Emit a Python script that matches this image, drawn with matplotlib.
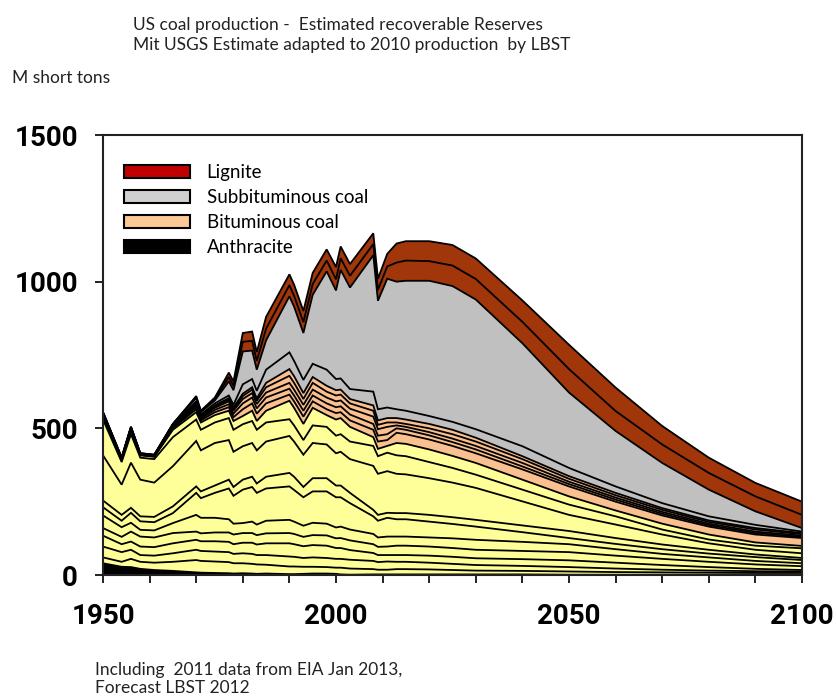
"""US coal production by coal type / state, history + LBST forecast."""

import numpy as np
import matplotlib
matplotlib.use("Agg")
import matplotlib.pyplot as plt
from matplotlib.patches import Patch
from matplotlib.ticker import MultipleLocator

years = [1950, 1954, 1956, 1958, 1961, 1965, 1970, 1971, 1974, 1977,
         1978, 1980, 1982, 1983, 1985, 1990, 1991, 1993, 1995, 1998,
         2000, 2001, 2003, 2008, 2009, 2011, 2013, 2015, 2020, 2025,
         2030, 2040, 2050, 2060, 2070, 2080, 2090, 2100]

# M short tons per layer, bottom to top
anthracite = [40, 28, 27, 21, 17, 14, 9, 8, 7, 6, 5, 6, 5, 4, 5, 3, 3, 4, 5, 5,
              4, 2, 1, 2, 2, 2, 2, 2, 2, 2, 2, 2, 1, 1, 1, 1, 1, 1]
bit_y1 = [20, 17, 28, 24, 25, 31, 42, 40, 39, 38, 35, 34, 33, 32, 30, 26, 26, 24, 23, 22,
          21, 23, 21, 18, 16, 16, 18, 18, 17, 15, 13, 12, 11, 9, 8, 7, 6, 6]
bit_y2 = [37, 33, 31, 23, 24, 29, 35, 34, 34, 34, 32, 34, 34, 32, 33, 34, 33, 30, 32, 31,
          30, 30, 30, 28, 26, 28, 25, 25, 23, 21, 19, 17, 15, 12, 9, 7, 6, 5]
bit_y3 = [37, 27, 28, 29, 29, 34, 34, 33, 35, 35, 33, 36, 38, 36, 40, 45, 43, 40, 42, 42,
          37, 37, 33, 27, 24, 22, 23, 23, 24, 24, 23, 23, 23, 20, 16, 12, 8, 5]
bit_y4 = [26, 25, 34, 34, 33, 35, 28, 27, 30, 32, 33, 33, 33, 32, 34, 35, 35, 32, 34, 35,
          33, 34, 33, 30, 28, 29, 32, 32, 31, 30, 29, 28, 28, 24, 21, 18, 15, 13]
bit_y5 = [43, 33, 30, 23, 24, 34, 57, 53, 50, 45, 37, 34, 39, 36, 43, 45, 42, 38, 42, 40,
          37, 39, 37, 35, 32, 34, 31, 31, 31, 33, 34, 31, 27, 22, 17, 15, 12, 10]
bit_y6 = [28, 22, 34, 29, 28, 34, 75, 67, 85, 105, 95, 114, 118, 108, 110, 114, 108, 97, 107, 110,
          103, 100, 90, 60, 57, 64, 59, 59, 54, 49, 45, 33, 21, 18, 16, 13, 13, 11]
bit_y7 = [23, 20, 17, 17, 18, 23, 22, 23, 25, 30, 30, 34, 35, 32, 40, 46, 45, 35, 45, 45,
          40, 40, 35, 22, 20, 17, 21, 21, 23, 23, 23, 23, 24, 20, 16, 13, 9, 7]
bit_y8 = [154, 103, 154, 125, 117, 137, 155, 140, 145, 135, 120, 114, 115, 113, 120, 126, 120, 110, 120, 115,
          110, 115, 115, 150, 140, 142, 134, 132, 125, 118, 109, 82, 55, 46, 34, 22, 16, 16]
bit_y9 = [122, 77, 97, 75, 80, 99, 73, 70, 70, 75, 75, 75, 75, 70, 65, 57, 55, 50, 60, 60,
          60, 60, 60, 68, 60, 63, 63, 62, 55, 50, 45, 40, 35, 28, 17, 13, 14, 17]
bit_y10 = [10, 8, 15, 8, 8, 25, 25, 25, 25, 25, 30, 28, 35, 30, 40, 63, 60, 55, 60, 40,
           55, 55, 50, 30, 25, 23, 42, 42, 43, 41, 40, 34, 28, 20, 20, 17, 11, 8]
bit_p1 = [3, 1, 2, 1, 1, 5, 10, 7, 10, 12, 13, 23, 25, 25, 25, 21, 22, 25, 22, 20,
          22, 20, 22, 25, 25, 20, 35, 33, 34, 34, 33, 35, 34, 30, 28, 27, 27, 27]
bit_p2 = [3, 1, 2, 1, 1, 3, 7, 5, 8, 10, 12, 20, 20, 18, 20, 20, 20, 20, 20, 20,
          20, 20, 20, 20, 20, 20, 15, 15, 14, 13, 13, 10, 8, 7, 6, 5, 5, 4]
bit_p3 = [2, 1, 1, 1, 1, 3, 6, 5, 7, 10, 10, 15, 15, 15, 17, 20, 20, 20, 20, 20,
          20, 20, 20, 25, 22, 25, 10, 10, 11, 12, 12, 12, 8, 7, 6, 5, 5, 4]
bit_d1 = [2, 1, 1, 1, 1, 2, 4, 3, 4, 6, 6, 10, 12, 11, 18, 24, 23, 20, 23, 20,
          20, 20, 18, 20, 15, 15, 10, 10, 13, 15, 15, 13, 10, 8, 7, 6, 7, 5]
bit_d2 = [2, 1, 1, 1, 1, 2, 4, 3, 4, 5, 5, 8, 8, 8, 15, 23, 23, 20, 20, 20,
          18, 17, 15, 18, 15, 15, 15, 15, 15, 15, 13, 10, 9, 8, 6, 5, 5, 4]
sub_small = [2, 1, 1, 1, 1, 2, 6, 4, 7, 9, 9, 32, 28, 26, 45, 57, 52, 45, 45, 55,
             38, 38, 34, 47, 38, 36, 30, 30, 27, 27, 29, 34, 28, 22, 17, 14, 11, 5]
sub_main = [1, 1, 2, 1, 1, 3, 11, 8, 10, 48, 50, 112, 97, 72, 100, 191, 185, 160, 235, 335,
            302, 370, 346, 465, 370, 439, 435, 443, 461, 463, 442, 351, 257, 189, 137, 91, 46, 12]
lignite_1 = [0, 0, 0, 0, 0, 0, 4, 3, 5, 15, 15, 33, 33, 30, 40, 38, 37, 37, 37, 37,
             38, 40, 40, 38, 37, 42, 65, 69, 67, 70, 70, 73, 80, 68, 63, 57, 51, 45]
lignite_2 = [0, 0, 0, 0, 0, 0, 3, 2, 5, 15, 15, 30, 32, 30, 40, 37, 38, 38, 38, 38,
             42, 40, 40, 37, 38, 43, 65, 66, 68, 70, 70, 73, 83, 80, 63, 52, 46, 45]

YELLOW = "#ffff99"
PEACH = "#fac090"
GRAY = "#c0c0c0"
BROWN = "#a0360a"

layers = [anthracite, bit_y1, bit_y2, bit_y3, bit_y4, bit_y5, bit_y6, bit_y7,
          bit_y8, bit_y9, bit_y10, bit_p1, bit_p2, bit_p3, bit_d1, bit_d2,
          sub_small, sub_main, lignite_1, lignite_2]
colors = (["black"] + [YELLOW] * 10 + [PEACH] * 5 + [GRAY, GRAY]
          + [BROWN, BROWN])

small_font = "Lato"
tick_font = "Roboto"

fig = plt.figure(figsize=(8.36, 7.0), dpi=100)
ax = fig.add_axes([103 / 836, 1 - 575 / 700, 699 / 836, 440 / 700])

ax.stackplot(years, *layers, colors=colors, linewidth=0)
tops = np.cumsum(np.array(layers, dtype=float), axis=0)
for row in tops:
    ax.plot(years, row, color="black", lw=1.3, solid_joinstyle="miter")

ax.set_xlim(1950, 2100)
ax.set_ylim(0, 1500)
ax.set_xticks([1950, 2000, 2050, 2100])
ax.xaxis.set_minor_locator(MultipleLocator(10))
ax.set_yticks([0, 500, 1000, 1500])
ax.tick_params(axis="both", which="both", direction="out", length=6,
               width=1.4, color="#222222")
ax.tick_params(axis="x", pad=14)
ax.tick_params(axis="y", pad=12)
for lab in ax.get_xticklabels() + ax.get_yticklabels():
    lab.set_fontfamily(tick_font)
    lab.set_fontweight("bold")
    lab.set_fontsize(20)
for sp in ax.spines.values():
    sp.set_linewidth(1.5)
    sp.set_color("#222222")

handles = [
    Patch(facecolor="#c00000", edgecolor="black", lw=1.5, label="Lignite"),
    Patch(facecolor="#d0d0d0", edgecolor="black", lw=1.5, label="Subbituminous coal"),
    Patch(facecolor="#fcc894", edgecolor="black", lw=1.5, label="Bituminous coal"),
    Patch(facecolor="black", edgecolor="black", lw=1.5, label="Anthracite"),
]
ax.legend(handles=handles, loc="upper left", bbox_to_anchor=(0.006, 0.972),
          frameon=False, handlelength=3.5, handleheight=0.7,
          handletextpad=0.9, labelspacing=0.42,
          prop={"family": small_font, "size": 13.5})

fig.text(133 / 836, 1 - 25 / 700, "US coal production -  Estimated recoverable Reserves",
         family=small_font, fontsize=12.5, va="center", color="#222222")
fig.text(133 / 836, 1 - 45 / 700, "Mit USGS Estimate adapted to 2010 production  by LBST",
         family=small_font, fontsize=12.5, va="center", color="#222222")
fig.text(12 / 836, 1 - 78 / 700, "M short tons",
         family=small_font, fontsize=12.5, va="center", color="#222222")
fig.text(95 / 836, 1 - 670 / 700, "Including  2011 data from EIA Jan 2013,",
         family=small_font, fontsize=12.5, va="center", color="#222222")
fig.text(95 / 836, 1 - 688 / 700, "Forecast LBST 2012",
         family=small_font, fontsize=12.5, va="center", color="#222222")

fig.savefig("out.png", dpi=100)
